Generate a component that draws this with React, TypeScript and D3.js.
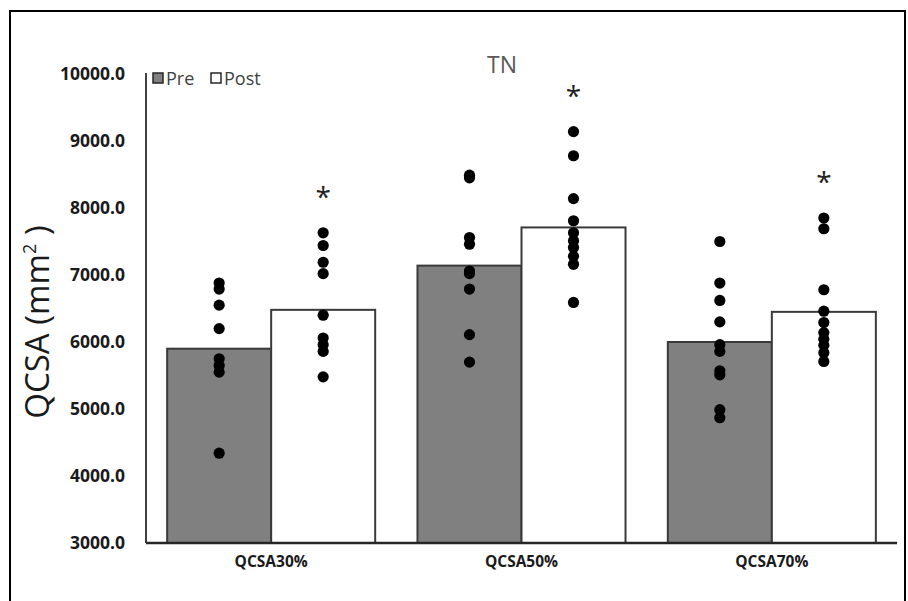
import React from 'react';
import * as d3 from 'd3';

const categories = ['QCSA30%', 'QCSA50%', 'QCSA70%'];
const seriesNames = ['Pre', 'Post'];
const preMeans = [5900, 7140, 6000];
const postMeans = [6480, 7710, 6450];
const prePoints = [
  [6880, 6790, 6550, 6200, 5750, 5650, 5550, 4340],
  [8490, 8450, 7560, 7460, 7060, 7020, 6790, 6110, 5700],
  [7500, 6880, 6620, 6300, 5960, 5860, 5570, 5510, 4990, 4870],
];
const postPoints = [
  [7630, 7440, 7190, 7020, 6400, 6060, 5960, 5860, 5480],
  [9140, 8780, 8140, 7810, 7630, 7510, 7410, 7280, 7160, 6590],
  [7850, 7690, 6780, 6460, 6290, 6140, 6040, 5950, 5840, 5710],
];
const significant = [true, true, true];
const yTicks = [3000, 4000, 5000, 6000, 7000, 8000, 9000, 10000];

const W = 908;
const H = 601;
const margin = { top: 74, right: 11, bottom: 58, left: 146 };
const font = "'Open Sans', 'Liberation Sans', sans-serif";

export default function App() {
  const x = d3.scaleBand<string>()
    .domain(categories)
    .range([margin.left, W - margin.right])
    .paddingInner(0.169)
    .paddingOuter(0.0845);

  const sub = d3.scaleBand<string>()
    .domain(seriesNames)
    .range([0, x.bandwidth()]);

  const y = d3.scaleLinear()
    .domain([3000, 10000])
    .range([H - margin.bottom, margin.top]);

  const fmt = d3.format('.1f');
  const means = [preMeans, postMeans];
  const points = [prePoints, postPoints];
  const fills = ['#808080', '#ffffff'];

  return (
    <svg width={W} height={H} style={{ position: 'absolute', left: 0, top: 0 }}
      fontFamily={font}>
      <rect x={0} y={0} width={W} height={H} fill="#fff" />
      <rect x={10} y={11} width={895} height={620} fill="none" stroke="#000" strokeWidth={2} />

      <text x={502} y={73} textAnchor="middle" fontSize={23} fill="#595959">TN</text>

      {/* bars */}
      {categories.map((c, ci) => seriesNames.map((s, si) => (
        <rect key={c + s}
          x={x(c)! + sub(s)!}
          y={y(means[si][ci])}
          width={sub.bandwidth()}
          height={y(3000) - y(means[si][ci])}
          fill={fills[si]} stroke="#3a3a3a" strokeWidth={2} />
      )))}

      {/* individual points */}
      {categories.map((c, ci) => seriesNames.map((s, si) => points[si][ci].map((v, k) => (
        <circle key={c + s + k}
          cx={x(c)! + sub(s)! + sub.bandwidth() / 2}
          cy={y(v)} r={5.6} fill="#000" />
      ))))}

      {/* asterisks */}
      {categories.map((c, ci) => significant[ci] && (
        <text key={'sig' + c}
          x={x(c)! + sub('Post')! + sub.bandwidth() / 2}
          y={y(d3.max(postPoints[ci])!) - 26}
          textAnchor="middle" fontSize={28} fill="#222">*</text>
      ))}

      {/* y axis */}
      <line x1={margin.left} x2={margin.left} y1={margin.top - 1} y2={y(3000)} stroke="#000" strokeWidth={1.5} />
      {yTicks.map(t => (
        <text key={t} x={125} y={y(t)} dy="0.36em" textAnchor="end"
          fontSize={17.5} fontWeight="bold" fill="#1a1a1a">{fmt(t)}</text>
      ))}

      {/* x axis */}
      <line x1={margin.left} x2={W - margin.right} y1={y(3000)} y2={y(3000)} stroke="#262626" strokeWidth={2.5} />
      {categories.map(c => (
        <text key={c} x={x(c)! + x.bandwidth() / 2} y={567} textAnchor="middle"
          fontSize={15.5} fontWeight="bold" fill="#1a1a1a">{c}</text>
      ))}

      {/* y label */}
      <text transform="translate(49,322) rotate(-90)" textAnchor="middle" fontSize={33} fill="#1a1a1a">
        QCSA (mm<tspan fontSize={18} dy={-13}>2</tspan><tspan dy={13}> )</tspan>
      </text>

      {/* legend */}
      {seriesNames.map((s, i) => (
        <g key={s} transform={`translate(${153 + i * 58},73)`}>
          <rect x={0} y={0} width={10} height={10} fill={fills[i]} stroke="#262626" strokeWidth={1.5} />
          <text x={13} y={11.5} fontSize={18} fill="#404040">{s}</text>
        </g>
      ))}
    </svg>
  );
}
